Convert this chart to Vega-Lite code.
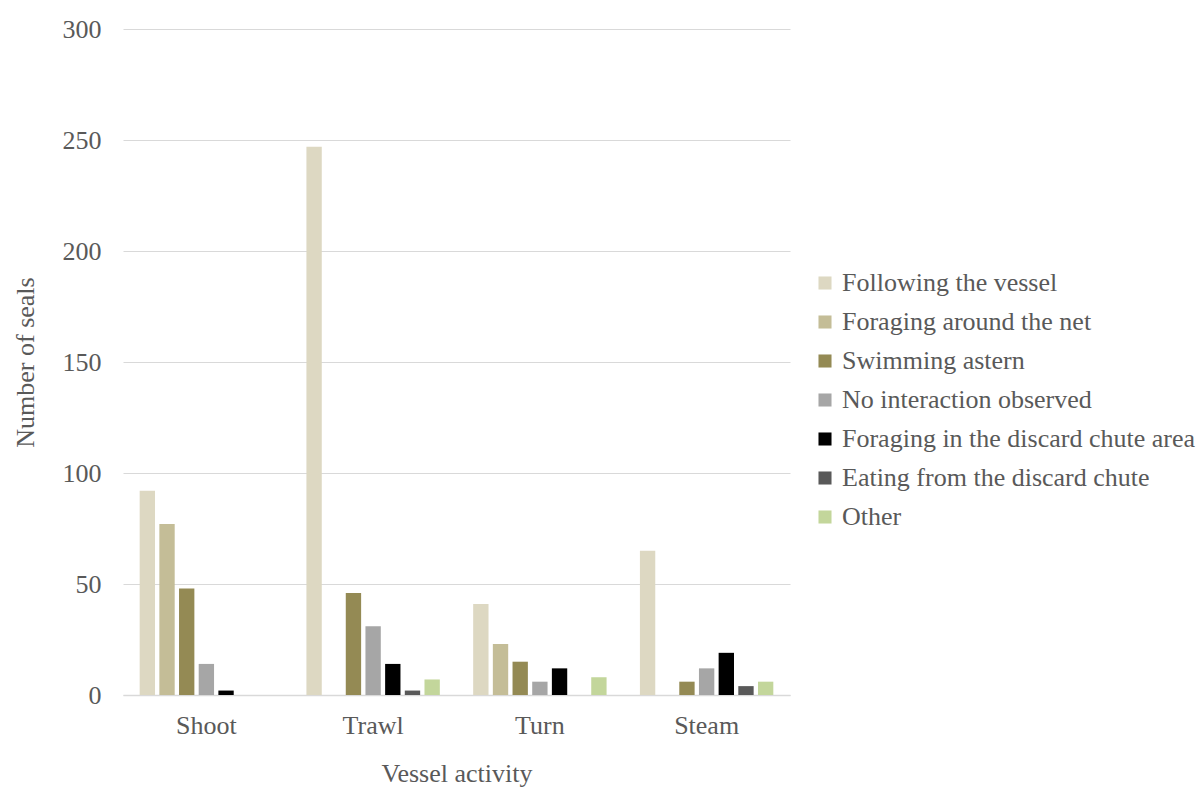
{
  "$schema": "https://vega.github.io/schema/vega-lite/v6.json",
  "autosize": {"type": "none"},
  "padding": {"left": 123, "top": 29, "right": 412, "bottom": 92},
  "width": 667,
  "height": 666,
  "background": "white",
  "config": {
    "view": {"stroke": null},
    "font": "Times New Roman, Liberation Serif, serif",
    "axis": {"labelFont": "Times New Roman, Liberation Serif, serif", "titleFont": "Times New Roman, Liberation Serif, serif", "labelColor": "#595959", "titleColor": "#595959", "titleFontWeight": "normal"},
    "legend": {"labelFont": "Times New Roman, Liberation Serif, serif", "labelColor": "#595959"}
  },
  "data": {
    "values": [
      {"activity": "Shoot", "behaviour": "Following the vessel", "n": 92},
      {"activity": "Shoot", "behaviour": "Foraging around the net", "n": 77},
      {"activity": "Shoot", "behaviour": "Swimming astern", "n": 48},
      {"activity": "Shoot", "behaviour": "No interaction observed", "n": 14},
      {"activity": "Shoot", "behaviour": "Foraging in the discard chute area", "n": 2},
      {"activity": "Shoot", "behaviour": "Eating from the discard chute", "n": 0},
      {"activity": "Shoot", "behaviour": "Other", "n": 0},
      {"activity": "Trawl", "behaviour": "Following the vessel", "n": 247},
      {"activity": "Trawl", "behaviour": "Foraging around the net", "n": 0},
      {"activity": "Trawl", "behaviour": "Swimming astern", "n": 46},
      {"activity": "Trawl", "behaviour": "No interaction observed", "n": 31},
      {"activity": "Trawl", "behaviour": "Foraging in the discard chute area", "n": 14},
      {"activity": "Trawl", "behaviour": "Eating from the discard chute", "n": 2},
      {"activity": "Trawl", "behaviour": "Other", "n": 7},
      {"activity": "Turn", "behaviour": "Following the vessel", "n": 41},
      {"activity": "Turn", "behaviour": "Foraging around the net", "n": 23},
      {"activity": "Turn", "behaviour": "Swimming astern", "n": 15},
      {"activity": "Turn", "behaviour": "No interaction observed", "n": 6},
      {"activity": "Turn", "behaviour": "Foraging in the discard chute area", "n": 12},
      {"activity": "Turn", "behaviour": "Eating from the discard chute", "n": 0},
      {"activity": "Turn", "behaviour": "Other", "n": 8},
      {"activity": "Steam", "behaviour": "Following the vessel", "n": 65},
      {"activity": "Steam", "behaviour": "Foraging around the net", "n": 0},
      {"activity": "Steam", "behaviour": "Swimming astern", "n": 6},
      {"activity": "Steam", "behaviour": "No interaction observed", "n": 12},
      {"activity": "Steam", "behaviour": "Foraging in the discard chute area", "n": 19},
      {"activity": "Steam", "behaviour": "Eating from the discard chute", "n": 4},
      {"activity": "Steam", "behaviour": "Other", "n": 6}
    ]
  },
  "mark": {"type": "bar"},
  "encoding": {
    "x": {
      "field": "activity", "type": "nominal",
      "sort": ["Shoot", "Trawl", "Turn", "Steam"],
      "scale": {"paddingInner": 0.2, "paddingOuter": 0.1},
      "axis": {"title": "Vessel activity", "labelAngle": 0, "labelFontSize": 26, "titleFontSize": 26, "labelPadding": 17, "titlePadding": 22, "ticks": false, "domainColor": "#D9D9D9", "domainWidth": 1.3}
    },
    "xOffset": {
      "field": "behaviour", "type": "nominal",
      "sort": ["Following the vessel", "Foraging around the net", "Swimming astern", "No interaction observed", "Foraging in the discard chute area", "Eating from the discard chute", "Other"],
      "scale": {"paddingInner": 0.22, "paddingOuter": 0}
    },
    "y": {
      "field": "n", "type": "quantitative",
      "scale": {"domain": [0, 300]},
      "axis": {"title": "Number of seals", "values": [0, 50, 100, 150, 200, 250, 300], "labelFontSize": 26, "titleFontSize": 26, "labelPadding": 22, "titlePadding": 24, "ticks": false, "domain": false, "gridColor": "#D9D9D9", "gridWidth": 1}
    },
    "color": {
      "field": "behaviour", "type": "nominal",
      "sort": ["Following the vessel", "Foraging around the net", "Swimming astern", "No interaction observed", "Foraging in the discard chute area", "Eating from the discard chute", "Other"],
      "scale": {
        "domain": ["Following the vessel", "Foraging around the net", "Swimming astern", "No interaction observed", "Foraging in the discard chute area", "Eating from the discard chute", "Other"],
        "range": ["#DDD8C2", "#C4BD97", "#948A54", "#A6A6A6", "#000000", "#595959", "#C3D69B"]
      },
      "legend": {"title": null, "orient": "none", "legendX": 689, "legendY": 241, "symbolType": "square", "symbolSize": 170, "symbolStrokeWidth": 0, "labelFontSize": 26, "rowPadding": 13, "labelOffset": 4, "labelLimit": 400}
    }
  }
}
